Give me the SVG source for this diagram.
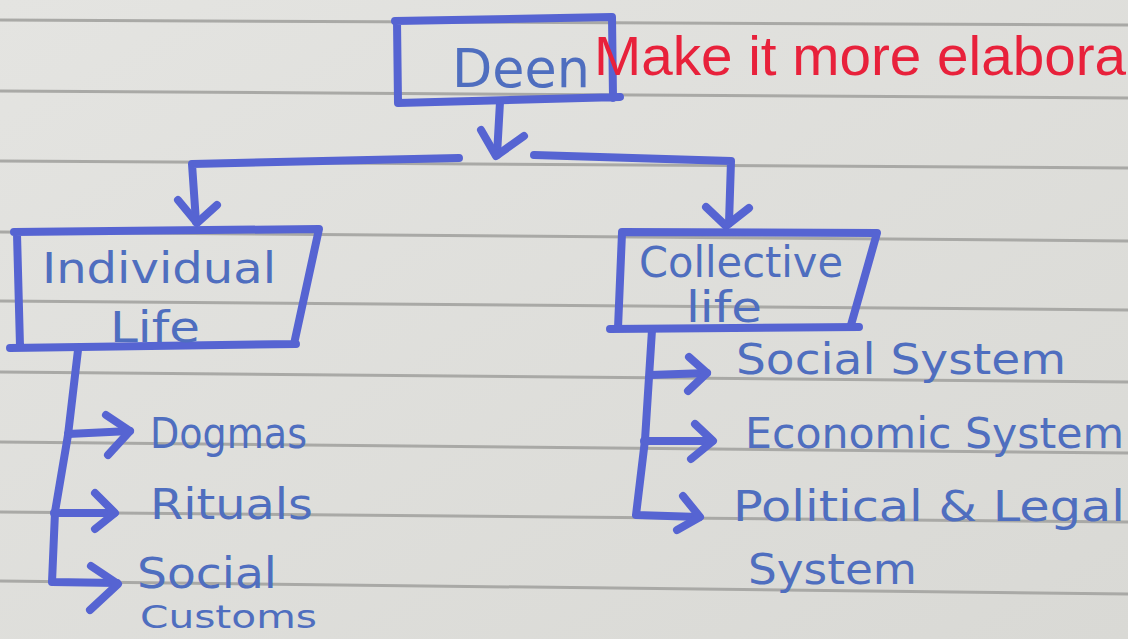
<svg xmlns="http://www.w3.org/2000/svg" width="1128" height="639" viewBox="0 0 1128 639">
  <defs>
    <linearGradient id="paper" x1="0" y1="0" x2="1" y2="1">
      <stop offset="0" stop-color="#e4e4e1"/>
      <stop offset="1" stop-color="#d9d9d5"/>
    </linearGradient>
  </defs>
  <style>
    .rule { stroke: #a9a9a6; stroke-width: 3; fill: none; }
    .ink { stroke: #5664d2; stroke-width: 8; fill: none; stroke-linecap: round; stroke-linejoin: round; }
    .conn { stroke: #5664d2; stroke-width: 8; fill: none; stroke-linecap: round; stroke-linejoin: round; }
    .label { fill: #4f6ebf; font-family: "DejaVu Sans", "Liberation Sans", sans-serif; font-weight: normal; }
    .note { fill: #e8213b; font-family: "Liberation Sans", Arial, sans-serif; font-size: 56px; }
  </style>

  <!-- paper -->
  <rect x="0" y="0" width="1128" height="639" fill="url(#paper)"/>
  <g id="ruled-lines">
    <line class="rule" x1="0" y1="20" x2="1128" y2="25"/>
    <line class="rule" x1="0" y1="91" x2="1128" y2="98"/>
    <line class="rule" x1="0" y1="161" x2="1128" y2="168"/>
    <line class="rule" x1="0" y1="232" x2="1128" y2="241"/>
    <line class="rule" x1="0" y1="301" x2="1128" y2="310"/>
    <line class="rule" x1="0" y1="372" x2="1128" y2="382"/>
    <line class="rule" x1="0" y1="442" x2="1128" y2="453"/>
    <line class="rule" x1="0" y1="512" x2="1128" y2="522"/>
    <line class="rule" x1="0" y1="581" x2="1128" y2="594"/>
  </g>

  <!-- connectors -->
  <g id="connectors">
    <!-- Deen down arrow -->
    <path class="conn" d="M500 102 L497 155"/>
    <path class="conn" d="M481 130 L496 156 L524 136"/>
    <!-- horizontal branches -->
    <path class="conn" d="M459 158 L192 164 L196 222"/>
    <path class="conn" d="M178 200 L197 223 L217 205"/>
    <path class="conn" d="M534 155 L731 161 L729 223"/>
    <path class="conn" d="M706 207 L726 226 L749 208"/>
    <!-- Individual life tree -->
    <path class="conn" d="M78 350 L68 435 L55 512 L52 582 L117 583"/>
    <path class="conn" d="M68 434 L130 431"/>
    <path class="conn" d="M106 415 L130 431 L108 455"/>
    <path class="conn" d="M54 513 L114 513"/>
    <path class="conn" d="M95 493 L115 513 L95 529"/>
    <path class="conn" d="M91 566 L118 584 L90 610"/>
    <!-- Collective life tree -->
    <path class="conn" d="M652 330 L645 440 L636 515 L699 517"/>
    <path class="conn" d="M650 375 L707 373"/>
    <path class="conn" d="M689 357 L707 373 L688 391"/>
    <path class="conn" d="M644 441 L712 441"/>
    <path class="conn" d="M695 424 L713 441 L691 459"/>
    <path class="conn" d="M683 496 L700 517 L677 530"/>
  </g>

  <!-- Deen -->
  <g id="node-deen">
    <path class="ink" d="M395 21 L612 17 L613 98 M397 21 L398 103 L620 97"/>
    <text class="label" x="452" y="87" font-size="54" textLength="138" lengthAdjust="spacingAndGlyphs" fill="#5a86c4">Deen</text>
  </g>

  <!-- Individual life -->
  <g id="node-individual-life">
    <path class="ink" d="M14 232 L319 229 L294 344 M17 234 L20 346 M10 348 L296 344"/>
    <text class="label" x="42" y="283" font-size="42" textLength="234" lengthAdjust="spacingAndGlyphs">Individual</text>
    <text class="label" x="110" y="342" font-size="42" textLength="90" lengthAdjust="spacingAndGlyphs">Life</text>
  </g>

  <!-- Collective life -->
  <g id="node-collective-life">
    <path class="ink" d="M622 232 L877 233 L851 325 M622 233 L618 328 M610 329 L859 327"/>
    <text class="label" x="639" y="277" font-size="42" textLength="204" lengthAdjust="spacingAndGlyphs">Collective</text>
    <text class="label" x="686" y="322" font-size="42" textLength="76" lengthAdjust="spacingAndGlyphs">life</text>
  </g>

  <!-- Individual items -->
  <g id="node-dogmas">
    <text class="label" x="150" y="448" font-size="42" textLength="157" lengthAdjust="spacingAndGlyphs">Dogmas</text>
  </g>
  <g id="node-rituals">
    <text class="label" x="150" y="519" font-size="42" textLength="163" lengthAdjust="spacingAndGlyphs">Rituals</text>
  </g>
  <g id="node-social-customs">
    <text class="label" x="137" y="588" font-size="42" textLength="140" lengthAdjust="spacingAndGlyphs">Social</text>
    <text class="label" x="140" y="628" font-size="32" textLength="177" lengthAdjust="spacingAndGlyphs">Customs</text>
  </g>

  <!-- Collective items -->
  <g id="node-social-system">
    <text class="label" x="736" y="374" font-size="42" textLength="330" lengthAdjust="spacingAndGlyphs">Social System</text>
  </g>
  <g id="node-economic-system">
    <text class="label" x="745" y="448" font-size="42" textLength="379" lengthAdjust="spacingAndGlyphs">Economic System</text>
  </g>
  <g id="node-political-legal-system">
    <text class="label" x="733" y="521" font-size="42" textLength="392" lengthAdjust="spacingAndGlyphs">Political &amp; Legal</text>
    <text class="label" x="748" y="584" font-size="42" textLength="169" lengthAdjust="spacingAndGlyphs">System</text>
  </g>

  <!-- annotation -->
  <text class="note" x="594" y="75" textLength="532" lengthAdjust="spacingAndGlyphs">Make it more elabora</text>
</svg>
